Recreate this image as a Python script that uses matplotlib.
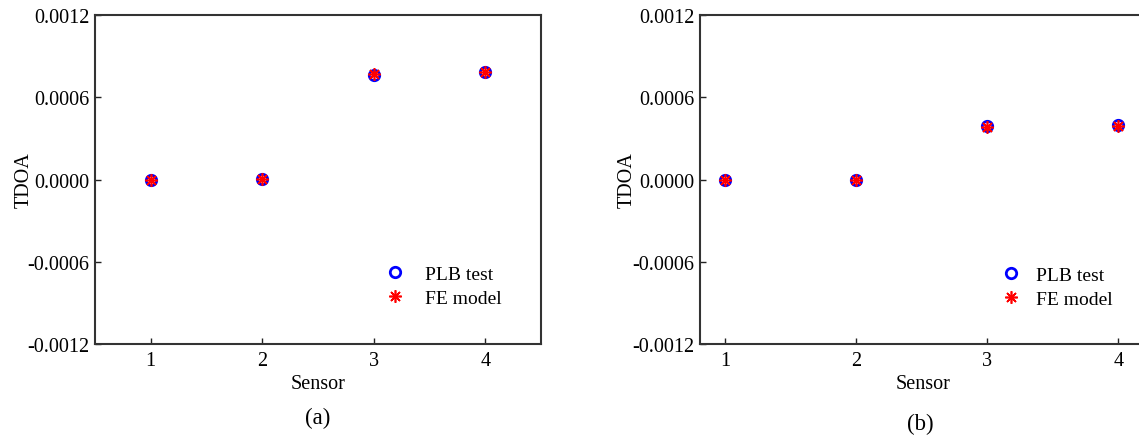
import matplotlib
matplotlib.use("Agg")
import matplotlib.pyplot as plt
from matplotlib.ticker import FixedLocator, FuncFormatter

plt.rcParams['font.family'] = ['Liberation Serif', 'DejaVu Serif']

sensors = [1, 2, 3, 4]
plb_a = [0.0, 0.000005, 0.000759, 0.000782]
fe_a = [0.0, 0.000005, 0.000770, 0.000782]
plb_b = [0.0, 0.0, 0.000388, 0.000395]
fe_b = [0.0, 0.0, 0.000385, 0.000388]
yticks = [-0.0012, -0.0006, 0.0, 0.0006, 0.0012]
xticks = [1, 2, 3, 4]

W, H = 1139, 439
fig = plt.figure(figsize=(W / 100, H / 100), dpi=100)

def px(l, b, r, t):
    return [l / W, 1 - b / H, (r - l) / W, (b - t) / H]

AXL_A, AXL_B, AXB, AXT, AXW = 95, 700, 345, 16, 446
ax_a = fig.add_axes(px(AXL_A, AXB, AXL_A + AXW, AXT))
ax_b = fig.add_axes(px(AXL_B, AXB, AXL_B + AXW, AXT))

fs = 14.5
lfs = 14

def style(ax, xlim, axl, leg_xy, htp, ylab_x, cap, cap_y):
    ax.set_xlim(*xlim)
    ax.set_ylim(-0.0012, 0.0012)
    ax.yaxis.set_major_locator(FixedLocator(yticks))
    ax.xaxis.set_major_locator(FixedLocator(xticks))
    ax.yaxis.set_major_formatter(FuncFormatter(lambda v, p: f"{v:.4f}".replace("\u2212", "-")))
    ax.tick_params(direction='in', length=4, width=1, labelsize=fs, top=False, right=False,
                   color='#222222', labelcolor='black')
    ax.tick_params(axis='x', pad=5)
    ax.tick_params(axis='y', pad=4)
    for s in ax.spines.values():
        s.set_linewidth(1.5)
        s.set_color('#333333')
    ax.set_xlabel('Sensor', fontsize=fs)
    ax.set_ylabel('TDOA', fontsize=fs)
    ax.xaxis.set_label_coords(0.5, (AXB - 385) / (AXB - AXT))
    ax.yaxis.set_label_coords((ylab_x - axl) / AXW, 0.5)
    ax.xaxis.label.set_va('center')
    ax.yaxis.label.set_va('center')
    ax.legend(loc='upper left', bbox_to_anchor=((leg_xy[0] - axl) / AXW, (AXB - leg_xy[1]) / (AXB - AXT)),
              frameon=False, fontsize=lfs, handletextpad=htp, labelspacing=0.33,
              borderaxespad=0, borderpad=0, handlelength=1.2)
    fig.text(cap[0] / W, 1 - cap_y / H, cap[1], fontsize=fs + 2, ha='center', va='center')

for ax, plb, fe in [(ax_a, plb_a, fe_a), (ax_b, plb_b, fe_b)]:
    ax.plot(sensors, plb, linestyle='none', marker='o', markersize=7.5, markeredgewidth=2,
            markerfacecolor='none', markeredgecolor='blue', label='PLB test')
    ax.plot(sensors, fe, linestyle='none', marker=(8, 2, 0), markersize=9, markeredgewidth=1.2,
            color='red', label='FE model')

style(ax_a, (0.5, 4.5), AXL_A, (383.5, 266), 0.95, 24, (318, '(a)'), 418)
style(ax_b, (0.807, 4.21), AXL_B, (999, 267), 0.7, 627, (920, '(b)'), 424)

fig.savefig('out.png', dpi=100)
